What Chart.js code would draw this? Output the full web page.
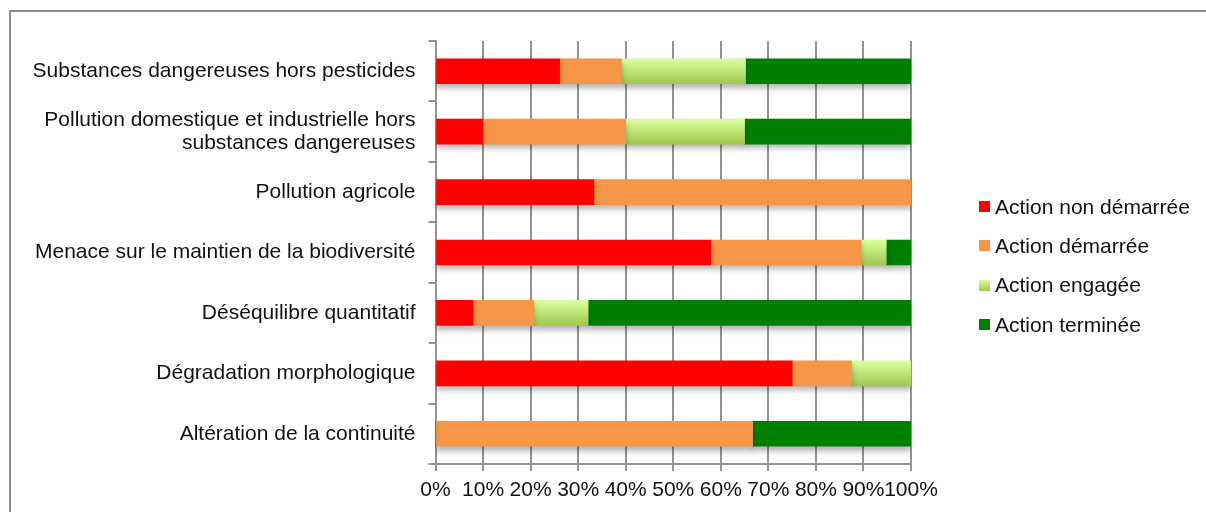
<!DOCTYPE html>
<html>
<head>
<meta charset="utf-8">
<script src="https://cdn.jsdelivr.net/npm/chart.js@4.4.1/dist/chart.umd.min.js"></script>
<style>
  html, body { margin: 0; padding: 0; background: #fff; }
  #wrap { position: relative; width: 1206px; height: 512px; overflow: hidden; }
  #frame { position: absolute; left: 9px; top: 10px; width: 1400px; height: 700px; border: 2px solid #8c8c8c; }
  #chart { position: absolute; left: 0; top: 0; }
  #legend { position: absolute; left: 979px; top: 187px; font: 21px "Liberation Sans", Arial, sans-serif; color: #111; }
  .item { display: flex; align-items: center; height: 39.3px; }
  .sw { width: 11px; height: 11px; margin-right: 5px; }
</style>
</head>
<body>
<div id="wrap">
  <div id="frame"></div>
  <canvas id="chart" width="1206" height="512"></canvas>
  <div id="legend"></div>
</div>
<script>
const categories = [
  "Substances dangereuses hors pesticides",
  ["Pollution domestique et industrielle hors", "substances dangereuses"],
  "Pollution agricole",
  "Menace sur le maintien de la biodiversité",
  "Déséquilibre quantitatif",
  "Dégradation morphologique",
  "Altération de la continuité",
];
const seriesNames = ["Action non démarrée", "Action démarrée", "Action engagée", "Action terminée"];
const nonDemarree = [26.1, 10, 33.3, 57.9, 7.9, 75, 0];
const demarree = [13.0, 30, 66.7, 31.6, 12.8, 12.5, 66.7];
const engagee = [26.1, 25, 0, 5.3, 11.4, 12.5, 0];
const terminee = [34.8, 35, 0, 5.3, 67.9, 0, 33.3];
const xTicks = [0, 10, 20, 30, 40, 50, 60, 70, 80, 90, 100];

const font = { family: '"Liberation Sans", Arial, sans-serif', size: 21 };
const barSize = 25;

// Light green bars get a vertical gradient like the original
const engageeColor = (ctx) => {
  const chart = ctx.chart;
  const y = chart.scales && chart.scales.y;
  if (!y || ctx.dataIndex === undefined) return "#c4e87a";
  const yc = y.getPixelForValue(ctx.dataIndex);
  if (!isFinite(yc)) return "#c4e87a";
  const g = chart.ctx.createLinearGradient(0, yc - barSize / 2, 0, yc + barSize / 2);
  g.addColorStop(0, "#dcff9e");
  g.addColorStop(1, "#a0c94f");
  return g;
};

const shadow = {
  id: "shadow",
  beforeDatasetsDraw(chart) {
    const c = chart.ctx;
    c.save();
    c.shadowColor = "rgba(0,0,0,0.3)";
    c.shadowBlur = 6;
    c.shadowOffsetX = 0;
    c.shadowOffsetY = 4;
  },
  afterDatasetsDraw(chart) {
    chart.ctx.restore();
  },
};

const base = { barThickness: barSize, borderWidth: 0 };
const datasets = [
  { ...base, label: seriesNames[0], data: nonDemarree, backgroundColor: "#ff0000" },
  { ...base, label: seriesNames[1], data: demarree, backgroundColor: "#f79646" },
  { ...base, label: seriesNames[2], data: engagee, backgroundColor: engageeColor },
  { ...base, label: seriesNames[3], data: terminee, backgroundColor: "#008000" },
];

new Chart(document.getElementById("chart"), {
  type: "bar",
  data: { labels: categories, datasets },
  options: {
    indexAxis: "y",
    responsive: false,
    animation: false,
    devicePixelRatio: 1,
    layout: { padding: { top: 41, right: 295, left: 0, bottom: 0 } },
    plugins: { legend: { display: false }, tooltip: { enabled: false } },
    scales: {
      x: {
        stacked: true,
        min: 0,
        max: 100,
        afterBuildTicks: (s) => { s.ticks = xTicks.map((v) => ({ value: v })); },
        afterFit: (s) => { s.height = 48; },
        grid: { color: "#939393", lineWidth: 2, tickLength: 7 },
        border: { color: "#939393", width: 2 },
        ticks: { font, color: "#111", padding: 7, maxRotation: 0, autoSkip: false, callback: (v) => v + "%" },
      },
      y: {
        stacked: true,
        afterFit: (s) => { s.width = 435.5; },
        grid: { drawOnChartArea: false, color: "#939393", lineWidth: 2, tickLength: 7, offset: true },
        border: { color: "#939393", width: 2 },
        ticks: { font: { ...font, lineHeight: 1.12 }, color: "#111", padding: 13 },
      },
    },
  },
  plugins: [shadow],
});

// Legend
const legend = document.getElementById("legend");
const swatches = ["#ff0000", "#f79646", "linear-gradient(#dcff9e, #a0c94f)", "#008000"];
seriesNames.forEach((name, i) => {
  const item = document.createElement("div");
  item.className = "item";
  const sw = document.createElement("span");
  sw.className = "sw";
  sw.style.background = swatches[i];
  item.appendChild(sw);
  item.appendChild(document.createTextNode(name));
  legend.appendChild(item);
});
</script>
</body>
</html>
